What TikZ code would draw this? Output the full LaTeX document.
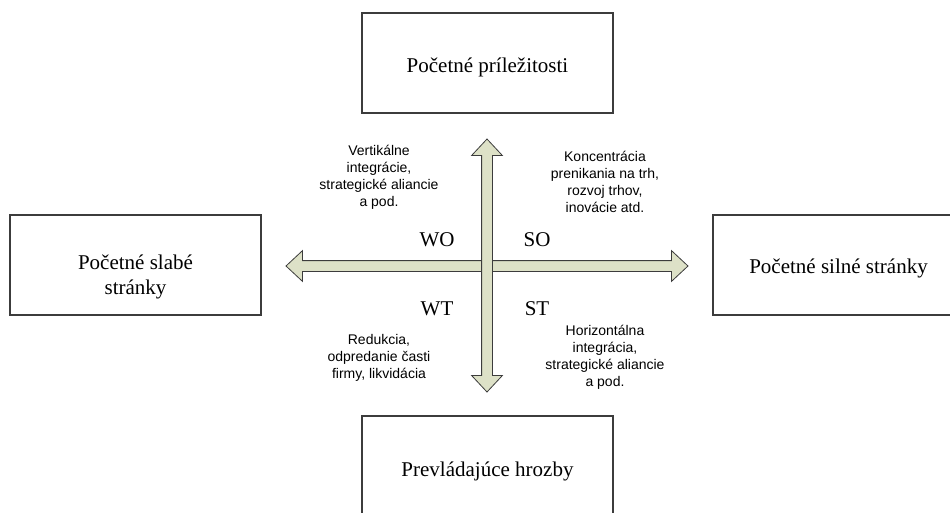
\documentclass[tikz,border=0pt]{standalone}
\usepackage{fontspec}
\setmainfont{Liberation Serif}
\newfontfamily\notefont{Liberation Sans}
\usetikzlibrary{shapes.arrows,positioning}
\definecolor{axisfill}{RGB}{221,225,199}
\definecolor{boxline}{RGB}{60,60,60}

\begin{document}
\begin{tikzpicture}[x=0.75pt,y=-0.75pt,
      box/.style={draw=boxline, line width=0.9pt, rectangle, fill=white,
         minimum width=188.25pt, minimum height=75pt, inner sep=0pt},
      boxtext/.style={draw=none, align=center, inner sep=0pt,
         font=\fontsize{15.75}{18.5}\selectfont},
      quad/.style={draw=none, inner sep=0pt, font=\fontsize{15.75}{18}\selectfont},
      note/.style={draw=none, align=center, inner sep=0pt,
         font=\notefont\fontsize{10.5}{12.75}\selectfont},
      axis/.style={double arrow, draw=boxline, line width=0.6pt, fill=axisfill,
         inner sep=3.75pt, double arrow head extend=7.5pt, double arrow tip angle=86}
   ]
      \useasboundingbox (0,0) rectangle (950,512);

      % the four boxes
      \node[box, label={[boxtext,yshift=-3.5pt]center:Početné príležitosti}] (O) at (487.5,63) {};
      \node[box, label={[boxtext,yshift=-9pt]center:Početné slabé\\stránky}] (W) at (135.5,265) {};
      \node[box, label={[boxtext,yshift=-2.5pt]center:Početné silné stránky}] (S) at (838.5,265) {};
      \node[box, label={[boxtext,yshift=-4pt]center:Prevládajúce hrozby}] (T) at (487.5,466) {};

      % the two axes
      \node[axis, minimum height=301.5pt] (hax) at (487,266) {};
      \node[axis, minimum height=189.75pt, rotate=90] (vax) at (487,265.5) {};

      % quadrant labels
      \node[quad] (WO) at (437,240) {WO};
      \node[quad] (SO) at (537,240) {SO};
      \node[quad] (WT) at (437,309) {WT};
      \node[quad] (ST) at (537,309) {ST};

      % strategies
      \node[note] (WOtxt) at (379,177) {Vertikálne\\integrácie,\\strategické aliancie\\a pod.};
      \node[note] (SOtxt) at (605,182) {Koncentrácia\\prenikania na trh,\\rozvoj trhov,\\inovácie atd.};
      \node[note] (WTtxt) at (379,358) {Redukcia,\\odpredanie časti\\firmy, likvidácia};
      \node[note] (STtxt) at (605,357) {Horizontálna\\integrácia,\\strategické aliancie\\a pod.};
   \end{tikzpicture}
\end{document}
